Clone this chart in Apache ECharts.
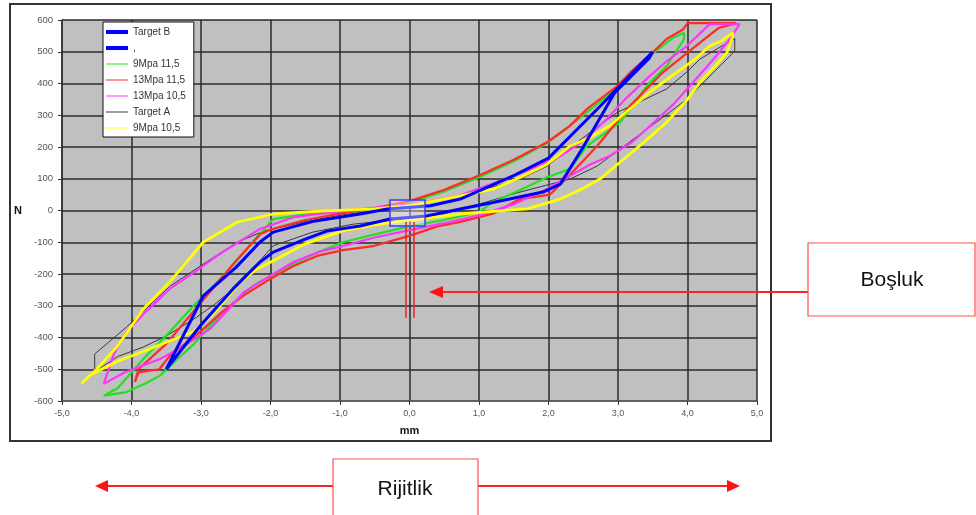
<!DOCTYPE html>
<html>
<head>
<meta charset="utf-8">
<script src="https://cdn.jsdelivr.net/npm/echarts@6/dist/echarts.min.js"></script>
<style>
  html, body { margin: 0; padding: 0; background: #fff; }
  #chart { width: 976px; height: 515px; }
</style>
</head>
<body>
<div id="chart"></div>
<script>
// loops: [mm, N], lower branch left->right then upper branch back
var targetB = [
  [-3.5, -500], [-3.01, -363], [-2.54, -247], [-2.15, -162], [-1.96, -131], [-1.5, -90], [-1.19, -65],
  [-0.71, -49], [-0.28, -27], [0.25, -17], [0.73, 5], [1.2, 25], [1.92, 58], [2.17, 83], [2.5, 200],
  [2.95, 370], [3.45, 480], [3.5, 500],
  [2.75, 330], [2.0, 165], [1.5, 110], [0.73, 36], [0.3, 15], [-0.32, 5], [-0.71, -11], [-1.4, -35],
  [-1.96, -68], [-2.15, -99], [-2.5, -180], [-2.97, -270], [-3.5, -500]
];
var targetBComma = [];
var mpa9_115 = [
  [-4.4, -583], [-4.07, -572], [-3.8, -545], [-3.59, -520], [-3.35, -470], [-3.1, -420], [-2.87, -363],
  [-2.55, -295], [-2.25, -237], [-1.95, -200], [-1.67, -168], [-1.3, -130], [-0.96, -100], [-0.5, -75],
  [0, -50], [0.5, -30], [1.0, -5], [1.2, 27], [1.6, 65], [1.98, 105], [2.31, 131], [2.55, 203],
  [3.03, 278], [3.46, 404], [3.7, 455], [3.95, 540], [3.95, 560],
  [3.8, 545], [3.5, 495], [3.2, 430], [2.9, 370], [2.5, 300], [2.0, 215], [1.5, 155], [1.0, 105],
  [0.5, 60], [0, 25], [-0.5, 3], [-1.0, -5], [-1.5, -12], [-1.96, -27], [-2.3, -111], [-2.63, -194],
  [-3.11, -301], [-3.45, -383], [-3.83, -468], [-4.2, -560], [-4.4, -583]
];
var mpa13_115 = [
  [-3.95, -540], [-3.9, -510], [-3.6, -500], [-3.45, -458], [-3.0, -380], [-2.7, -320], [-2.39, -268],
  [-2.0, -215], [-1.67, -175], [-1.33, -143], [-0.96, -125], [-0.52, -112], [0, -80], [0.4, -50],
  [0.73, -36], [1.2, -10], [1.59, 36], [2.02, 50], [2.3, 110], [2.7, 203], [3.17, 329], [3.65, 436],
  [4.18, 529], [4.45, 575], [4.7, 590],
  [4.2, 590], [4.0, 590], [3.94, 571], [3.7, 540], [3.5, 498], [3.2, 440], [2.99, 392], [2.55, 319],
  [2.3, 265], [1.98, 215], [1.5, 160], [1.0, 110], [0.5, 65], [0, 30], [-0.5, 8], [-1.0, -10],
  [-1.5, -30], [-2.0, -60], [-2.15, -75], [-2.5, -160], [-3.0, -290], [-3.5, -420], [-3.9, -500], [-3.95, -540]
];
var mpa13_105 = [
  [-4.4, -546], [-4.1, -510], [-3.59, -468], [-3.2, -420], [-2.87, -373], [-2.6, -310], [-2.39, -258],
  [-2.0, -205], [-1.67, -162], [-1.3, -130], [-0.96, -112], [-0.5, -85], [0, -62], [0.5, -40], [1.0, -15],
  [1.5, 20], [2.0, 70], [2.31, 109], [2.6, 145], [2.88, 172], [3.2, 215], [3.46, 266], [3.8, 335],
  [4.08, 404], [4.35, 470], [4.61, 540], [4.75, 587],
  [4.32, 587], [3.99, 518], [3.7, 470], [3.46, 424], [3.1, 350], [2.84, 288], [2.5, 220], [2.2, 175],
  [1.69, 125], [1.2, 85], [0.73, 48], [0.3, 30], [0, 20], [-0.5, 8], [-0.96, -1], [-1.67, -21],
  [-2.15, -58], [-2.5, -105], [-2.77, -143], [-3.1, -195], [-3.45, -247], [-3.8, -320], [-4.07, -382],
  [-4.25, -450], [-4.4, -546]
];
var targetA = [
  [-4.53, -498], [-4.46, -498], [-4.2, -460], [-3.83, -430], [-3.5, -395], [-3.11, -343], [-2.8, -295],
  [-2.48, -237], [-2.2, -170], [-1.96, -111], [-1.39, -68], [-0.81, -43], [0, -25], [0.5, -10], [1.0, 20],
  [1.59, 58], [2.31, 99], [2.7, 140], [2.99, 187], [3.5, 270], [3.99, 350], [4.32, 423], [4.68, 502],
  [4.68, 542], [4.18, 477], [3.99, 436], [3.7, 383], [2.99, 309], [2.5, 230], [1.98, 140], [1.59, 99],
  [1.0, 62], [0.5, 35], [0, 15], [-0.5, 0], [-1.0, -15], [-1.5, -35], [-2.1, -65], [-2.48, -100],
  [-2.97, -169], [-3.45, -239], [-4.07, -367], [-4.53, -452], [-4.53, -498]
];
var mpa9_105 = [
  [-4.72, -545], [-4.6, -520], [-4.5, -508], [-4.2, -475], [-3.83, -444], [-3.5, -415], [-3.1, -381],
  [-2.8, -320], [-2.44, -226], [-2.2, -185], [-1.91, -153], [-1.5, -105], [-0.96, -64], [-0.5, -45],
  [0, -30], [0.5, -18], [0.73, -11], [1.2, -3], [1.69, 5], [2.17, 36], [2.5, 70], [2.74, 99], [3.03, 152],
  [3.4, 220], [3.7, 278], [4.0, 350], [4.18, 404], [4.4, 455], [4.57, 498], [4.65, 549], [4.65, 560],
  [4.5, 535], [4.32, 518], [4.1, 475], [3.85, 436], [3.5, 380], [3.22, 329], [2.88, 267], [2.6, 230],
  [2.31, 203], [1.98, 146], [1.6, 105], [1.2, 67], [0.73, 46], [0.3, 28], [0, 15], [-0.5, 5], [-1.29, -2],
  [-1.96, -11], [-2.48, -37], [-2.97, -100], [-3.2, -160], [-3.45, -225], [-3.83, -310], [-4.2, -427],
  [-4.5, -500], [-4.72, -545]
];

var font = "'Liberation Sans', Arial, sans-serif";
var thick = 'path://M0,0H44V8H0Z';
var thin = 'path://M0,0H44V2H0Z';

function loop(name, data, color, width) {
  return {
    name: name,
    type: 'line',
    data: data,
    showSymbol: false,
    symbol: 'none',
    color: color,
    lineStyle: { color: color, width: width },
    emphasis: { disabled: true },
    animation: false
  };
}

var myChart = echarts.init(document.getElementById('chart'));

myChart.setOption({
  backgroundColor: '#fff',
  grid: {
    left: 62, right: 219, top: 20, bottom: 114,
    show: true, backgroundColor: '#c0c0c0', borderWidth: 0
  },
  legend: {
    left: 103, top: 22,
    orient: 'vertical',
    backgroundColor: '#fff',
    borderColor: '#111', borderWidth: 1,
    padding: [5, 8, 4, 3],
    itemWidth: 22, itemHeight: 4, itemGap: 6, itemTextGap: 3,
    symbolKeepAspect: true,
    selectedMode: false,
    textStyle: { fontSize: 10, color: '#333', fontFamily: font },
    data: [
      { name: 'Target B', icon: thick },
      { name: ',', icon: thick },
      { name: '9Mpa 11,5', icon: thin },
      { name: '13Mpa 11,5', icon: thin },
      { name: '13Mpa 10,5', icon: thin },
      { name: 'Target A', icon: thin },
      { name: '9Mpa 10,5', icon: thin }
    ]
  },
  xAxis: {
    type: 'value', min: -5, max: 5, interval: 1,
    name: 'mm', nameLocation: 'middle', nameGap: 24,
    nameTextStyle: { fontSize: 11, fontWeight: 'bold', color: '#111', fontFamily: font },
    axisLine: { onZero: false, lineStyle: { color: '#666', width: 1.5 } },
    axisTick: { show: true, length: 4, lineStyle: { color: '#333' } },
    axisLabel: {
      fontSize: 9, color: '#555', fontFamily: font, margin: 8,
      formatter: function (v) { return v.toFixed(1).replace('.', ','); }
    },
    splitLine: { show: true, lineStyle: { color: '#2a2a2a', width: 1.5 } }
  },
  yAxis: {
    type: 'value', min: -600, max: 600, interval: 100,
    name: 'N', nameLocation: 'middle', nameGap: 40, nameRotate: 0,
    nameTextStyle: { fontSize: 11, fontWeight: 'bold', color: '#111', fontFamily: font },
    axisLine: { show: true, onZero: false, lineStyle: { color: '#333', width: 1.5 } },
    axisTick: { show: true, length: 4, lineStyle: { color: '#333' } },
    axisLabel: { fontSize: 9.5, color: '#555', fontFamily: font, margin: 9 },
    splitLine: { show: true, lineStyle: { color: '#2a2a2a', width: 1.5 } }
  },
  series: [
    loop('Target A', targetA, '#3a3a3a', 1),
    loop('9Mpa 11,5', mpa9_115, '#22e022', 2.2),
    loop('13Mpa 11,5', mpa13_115, '#ff2a2a', 2.2),
    loop('13Mpa 10,5', mpa13_105, '#ff33ff', 2.2),
    loop('9Mpa 10,5', mpa9_105, '#ffff00', 2.8),
    loop(',', targetBComma, '#0000ff', 3),
    loop('Target B', targetB, '#0000ff', 3)
  ],
  graphic: [
    // outer frame
    { type: 'rect', shape: { x: 10, y: 4, width: 761, height: 437 },
      style: { fill: 'none', stroke: '#333', lineWidth: 2 }, silent: true, z: 100 },
    // gap marker at origin
    { type: 'rect', shape: { x: 390, y: 200, width: 35, height: 26 },
      style: { fill: 'rgba(255,255,255,0.35)', stroke: '#3a3aff', lineWidth: 1.5 }, z: 100 },
    { type: 'line', shape: { x1: 406, y1: 222, x2: 406, y2: 318 },
      style: { stroke: '#ee2222', lineWidth: 1.5 }, z: 100 },
    { type: 'line', shape: { x1: 414, y1: 222, x2: 414, y2: 318 },
      style: { stroke: '#ee2222', lineWidth: 1.5 }, z: 100 },
    // Boşluk callout
    { type: 'line', shape: { x1: 808, y1: 292, x2: 440, y2: 292 },
      style: { stroke: '#ff2222', lineWidth: 2 }, z: 100 },
    { type: 'polygon', shape: { points: [[429, 292], [443, 286], [443, 298]] },
      style: { fill: '#ff1111' }, z: 100 },
    { type: 'rect', shape: { x: 808, y: 243, width: 167, height: 73 },
      style: { fill: '#fff', stroke: '#ff5050', lineWidth: 1.2 }, z: 100 },
    { type: 'text', x: 892, y: 280, z: 101,
      style: { text: 'Boşluk', font: '21px ' + font, fill: '#111', align: 'center', verticalAlign: 'middle' } },
    // Rijitlik callout
    { type: 'line', shape: { x1: 106, y1: 486, x2: 333, y2: 486 },
      style: { stroke: '#ff2222', lineWidth: 2 }, z: 100 },
    { type: 'line', shape: { x1: 478, y1: 486, x2: 729, y2: 486 },
      style: { stroke: '#ff2222', lineWidth: 2 }, z: 100 },
    { type: 'polygon', shape: { points: [[95, 486], [108, 480], [108, 492]] },
      style: { fill: '#ff1111' }, z: 100 },
    { type: 'polygon', shape: { points: [[740, 486], [727, 480], [727, 492]] },
      style: { fill: '#ff1111' }, z: 100 },
    { type: 'rect', shape: { x: 333, y: 459, width: 145, height: 60 },
      style: { fill: '#fff', stroke: '#ff5050', lineWidth: 1.2 }, z: 100 },
    { type: 'text', x: 405, y: 489, z: 101,
      style: { text: 'Rijitlik', font: '21px ' + font, fill: '#111', align: 'center', verticalAlign: 'middle' } }
  ]
});
</script>
</body>
</html>
